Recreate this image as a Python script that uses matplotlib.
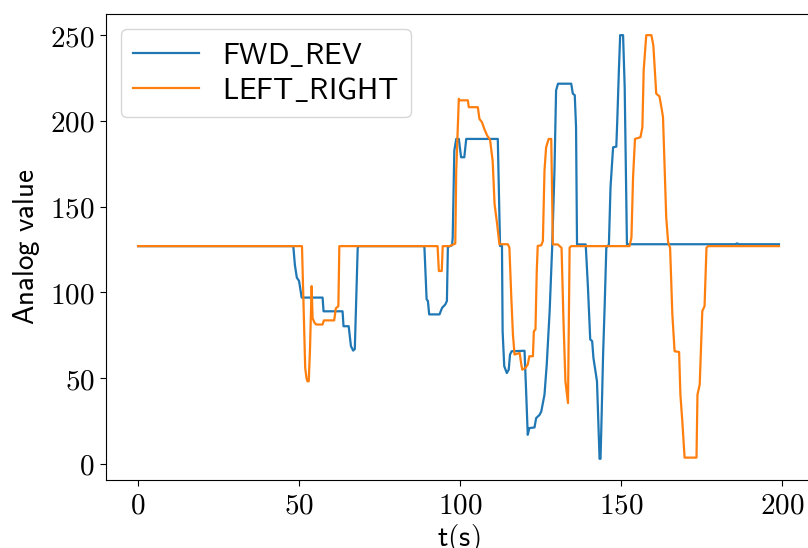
import matplotlib
matplotlib.use('Agg')
import matplotlib.pyplot as plt
from matplotlib.ticker import FuncFormatter

plt.rcParams['mathtext.fontset'] = 'cm'

# FWD_REV joystick channel
t_fwd = [0, 48.2, 48.7, 49.3, 50, 50.8, 57.3, 57.6, 63.5, 63.8, 65.4, 66.1, 66.8, 67.3, 68.2, 68.5,
         88.9, 89.6, 90, 90.4, 93.6, 94.4, 95.4, 95.9, 96.2, 97.5, 97.7, 98.2, 98.8, 99.6, 100.3, 101.3,
         101.9, 111.7, 112.4, 113, 113.2, 113.7, 114.5, 115.1, 115.5, 116, 120, 120.5, 121, 121.5, 123.1,
         123.6, 124.7, 125.2, 126.2, 126.9, 127.8, 128.6, 129.3, 129.8, 130.4, 134.5, 135, 135.6, 136,
         136.3, 139, 139.7, 140.4, 141, 141.4, 142.5, 143.3, 143.6, 143.9, 144.4, 144.9, 145.4, 146.2,
         146.7, 147.5, 148.5, 148.8, 149.3, 149.7, 150.6, 151.1, 151.8, 185.5, 186, 186.5, 199]
fwd = [127, 127, 116, 108.6, 106.7, 97, 97, 89, 89, 80.3, 80.3, 68.7, 66.1, 67, 126, 127,
       127, 96, 95, 87.2, 87.2, 91, 93, 95, 126.5, 127.5, 132, 182.7, 189.5, 189.5, 178.8, 178.8,
       189.5, 189.5, 127.1, 127.1, 77.4, 57, 53, 55, 63.8, 65.7, 66, 42.3, 17, 20.9, 21.3,
       26.7, 28.7, 30.6, 40.4, 58, 89.1, 127.1, 171, 217.8, 221.7, 221.7, 215.9, 215, 196.3,
       128, 128, 102.7, 72.6, 71.6, 61.8, 48.2, 3, 3, 24.8, 63.8, 93, 126.1, 128,
       161.2, 184.6, 185, 200.2, 229.5, 250, 250, 219.7, 128.1, 128.1, 128.6, 128.1, 128.1]

# LEFT_RIGHT joystick channel
t_lr = [0, 50.9, 51.9, 52.3, 52.6, 53, 53.4, 53.9, 54.2, 54.8, 55.3, 57.3, 57.7, 60.9, 61.4, 62.2, 62.5,
        93, 93.4, 94.3, 94.6, 96.7, 98.5, 98.8, 99.6, 99.8, 102.4, 102.7, 105.5, 106, 106.8, 107.5,
        108.4, 109.3, 110.1, 110.7, 111.5, 112.2, 114.8, 115.3, 115.9, 116.4, 116.9, 118.5, 119, 119.3,
        120.3, 121, 121.5, 122.6, 122.9, 123.4, 123.8, 124.1, 125.2, 125.7, 126.2, 126.7, 127.5, 128.3,
        128.8, 130.3, 131.5, 132.1, 132.7, 133.5, 134, 134.5, 152.6, 153.2, 153.7, 154.3, 156, 156.6,
        157, 157.8, 159.4, 160, 160.9, 161.9, 162.5, 163, 164, 164.6, 165.2, 165.9, 166.6, 168, 168.4,
        169, 169.7, 173.4, 173.7, 174.4, 175.2, 175.9, 176.5, 177, 199]
lr = [127, 127, 56, 50, 48.2, 48.2, 67.7, 103.7, 85, 82.3, 81.3, 81.3, 83.7, 83.7, 90.7, 92, 127,
      127, 112.5, 112.5, 127, 127, 128.5, 171, 212.9, 212, 212, 208, 208, 201.2, 199.2, 195.4,
      191.5, 189, 176.8, 151.5, 139.8, 128.1, 128.1, 126.2, 96.9, 75.5, 63.8, 64.7, 58, 55,
      56, 58, 62.8, 62.8, 77.4, 78.4, 112.5, 127.1, 127.5, 130, 171, 184.6, 189.5, 189.5,
      128, 128, 126, 83.3, 48.2, 35.5, 126.1, 127, 127, 132, 167.1, 189.5, 190.5, 196.3,
      229.5, 250, 250, 244, 215.9, 214.3, 208, 202.2, 143.7, 129.1, 126.1, 87.2, 65.7, 65.3, 40.4,
      24.8, 3.7, 3.7, 40.4, 46.3, 89.1, 92, 126.1, 127, 127]

fig = plt.figure(figsize=(8.08, 5.48), dpi=100)
ax = fig.add_axes([0.1312, 0.1241, 0.8725, 0.8504])

ax.plot(t_fwd, fwd, color='#1f77b4', lw=1.6, label=r'$\mathsf{FWD\_REV}$')
ax.plot(t_lr, lr, color='#ff7f0e', lw=1.6, label=r'$\mathsf{LEFT\_RIGHT}$')

ax.set_xlabel(r'$\mathsf{t(s)}$', fontsize=21, labelpad=2)
ax.set_ylabel(r'$\mathsf{Analog\ value}$', fontsize=21, labelpad=6)
fmt = FuncFormatter(lambda v, p: r'$%d$' % v)
ax.xaxis.set_major_formatter(fmt)
ax.yaxis.set_major_formatter(fmt)
ax.tick_params(labelsize=21, length=4.5)
ax.legend(loc='upper left', fontsize=21.5, handlelength=2.2, labelspacing=0.2)

fig.savefig('out.png', dpi=100)
